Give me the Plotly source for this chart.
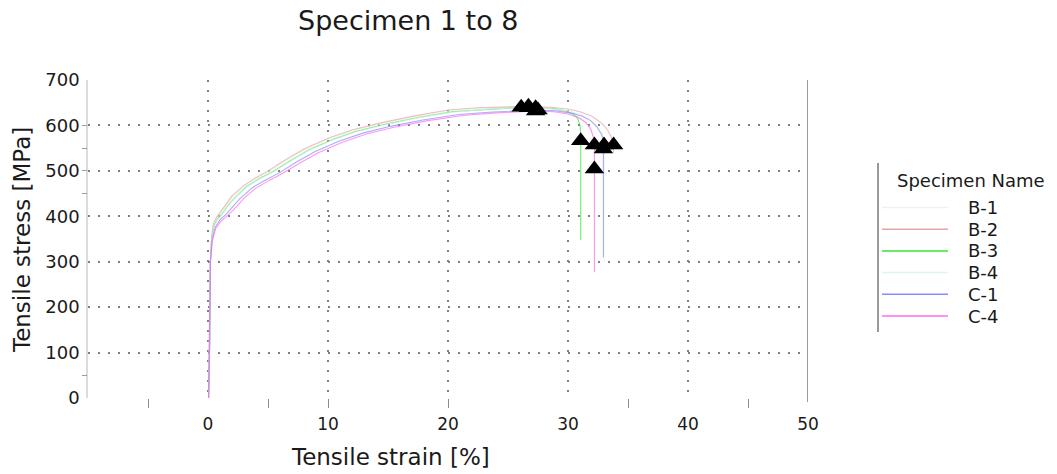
import plotly.graph_objects as go

# ---------------- data ----------------
specimens = ["B-1", "B-2", "B-3", "B-4", "C-1", "C-4"]
colors = ["#eef2ee", "#e4a4a4", "#33e633", "#e0f4f0", "#8a8aff", "#ff6cf0"]

b1_strain = [0.05, 0.15, 0.2, 0.3, 0.45, 0.7, 1.0, 1.5, 2.0, 3.0, 4.0, 5.0, 6.5, 8.0, 10.0, 12.0, 14.3, 17.0, 20.0, 22.5, 24.5, 26.1, 28.0, 29.5, 30.5, 31.3, 31.8, 32.1, 32.2, 32.2]
b1_stress = [0, 150, 300, 352, 380, 394, 405, 424, 441, 465, 482, 497, 522, 545, 569, 587, 602, 617, 631, 637, 639, 640, 638, 633, 625, 612, 595, 575, 557, 450]

b2_strain = [0.05, 0.15, 0.2, 0.3, 0.45, 0.7, 1.0, 1.5, 2.0, 3.0, 4.0, 5.0, 6.5, 8.0, 10.0, 12.0, 14.3, 17.0, 20.0, 22.5, 24.5, 26.7, 28.5, 30.0, 31.0, 32.0, 32.8, 33.3, 33.6, 33.8, 33.8]
b2_stress = [0, 160, 305, 355, 384, 397, 408, 428, 445, 468, 485, 500, 525, 548, 572, 590, 605, 620, 634, 639, 641, 642, 640, 636, 630, 620, 605, 590, 575, 557, 540]

b3_strain = [0.05, 0.15, 0.2, 0.3, 0.5, 0.8, 1.2, 1.7, 2.3, 3.2, 4.3, 5.4, 6.9, 8.4, 10.4, 12.4, 14.7, 17.4, 20.4, 22.9, 25.0, 27.3, 28.8, 29.8, 30.4, 30.8, 31.0, 31.06, 31.06, 31.06]
b3_stress = [0, 140, 300, 350, 380, 394, 406, 425, 442, 465, 483, 498, 523, 546, 569, 587, 602, 617, 630, 635, 638, 639, 637, 632, 625, 616, 600, 580, 566, 348]

b4_strain = [0.05, 0.15, 0.2, 0.3, 0.5, 0.8, 1.2, 1.7, 2.3, 3.2, 4.3, 5.4, 6.9, 8.4, 10.4, 12.4, 14.7, 17.4, 20.4, 22.9, 25.0, 26.7, 28.5, 30.0, 31.0, 31.8, 32.4, 32.8, 33.0, 33.0, 33.0]
b4_stress = [0, 130, 300, 350, 379, 393, 405, 424, 441, 464, 482, 497, 522, 545, 568, 586, 601, 616, 629, 635, 638, 639, 637, 632, 625, 614, 600, 583, 570, 557, 300]

c1_strain = [0.05, 0.15, 0.2, 0.35, 0.6, 1.0, 1.5, 2.1, 2.7, 3.7, 4.8, 5.9, 7.4, 8.9, 10.9, 12.9, 15.2, 17.9, 20.9, 23.4, 25.5, 27.5, 29.0, 30.3, 31.2, 31.9, 32.4, 32.8, 32.95, 32.95, 32.95]
c1_stress = [0, 120, 300, 348, 376, 392, 404, 423, 440, 463, 480, 495, 520, 542, 565, 583, 598, 612, 624, 629, 632, 634, 632, 627, 620, 610, 597, 580, 565, 548, 310]

c4_strain = [0.05, 0.15, 0.2, 0.35, 0.65, 1.1, 1.7, 2.4, 3.0, 4.0, 5.1, 6.2, 7.7, 9.2, 11.2, 13.2, 15.5, 18.2, 21.2, 23.7, 25.6, 27.3, 28.8, 30.0, 30.9, 31.5, 31.9, 32.1, 32.2, 32.2, 32.2]
c4_stress = [0, 200, 300, 345, 374, 390, 403, 422, 440, 462, 479, 494, 518, 540, 563, 581, 596, 610, 622, 627, 630, 632, 630, 625, 617, 606, 592, 576, 555, 504, 277]

curves_strain = [b1_strain, b2_strain, b3_strain, b4_strain, c1_strain, c4_strain]
curves_stress = [b1_stress, b2_stress, b3_stress, b4_stress, c1_stress, c4_stress]

# maximum-force points (triangles)
peak_strain = [26.1, 26.7, 27.3, 26.7, 27.5, 27.3]
peak_stress = [640, 642, 639, 639, 634, 632]
# break points (triangles)
break_strain = [32.2, 33.8, 31.06, 33.0, 32.95, 32.2]
break_stress = [557, 557, 566, 557, 548, 504]

x_labels = [0, 10, 20, 30, 40, 50]
x_grid = [0, 10, 20, 30, 40]
x_small_ticks = [-5, 5, 10, 20, 35, 45]
y_labels = [0, 100, 200, 300, 400, 500, 600, 700]
y_grid = [100, 200, 300, 400, 500, 600]
y_small_ticks = [50, 450, 500, 550, 600]

# ---------------- figure ----------------
W, H = 1057, 474
L, R, T, B = 88, 808, 80, 398
FONT = "DejaVu Sans, Verdana, sans-serif"
TXT = "#1a1a1a"

def px_x(p):
    return (p - L) / (R - L)

def px_y(p):
    return (B - p) / (B - T)

fig = go.Figure()

for name, col, xs, ys in zip(specimens, colors, curves_strain, curves_stress):
    fig.add_trace(go.Scatter(x=xs, y=ys, mode="lines", name=name, opacity=0.7,
                             line=dict(color=col, width=1.1), showlegend=False,
                             hoverinfo="skip"))

fig.add_trace(go.Scatter(x=peak_strain, y=peak_stress, mode="markers",
                         marker=dict(symbol="triangle-up", size=17, color="black"),
                         showlegend=False, hoverinfo="skip"))
fig.add_trace(go.Scatter(x=break_strain, y=break_stress, mode="markers",
                         marker=dict(symbol="triangle-up", size=17, color="black"),
                         showlegend=False, hoverinfo="skip"))

# invisible trace to create tick-only overlay axes
fig.add_trace(go.Scatter(x=[None], y=[None], xaxis="x2", yaxis="y2",
                         showlegend=False, hoverinfo="skip"))

grid_dash = "2px,8px"
fig.update_layout(
    width=W, height=H,
    margin=dict(l=L, r=W - R, t=T, b=H - B, pad=0),
    paper_bgcolor="white", plot_bgcolor="white",
    font=dict(family=FONT, color=TXT, size=16),
    showlegend=False,
    xaxis=dict(range=[-10, 50], tickvals=x_labels, ticktext=[str(v) for v in x_labels],
               showgrid=False, zeroline=False, showline=False, ticks="",
               ticklabelstandoff=14, tickfont=dict(size=17),
               minor=dict(tickvals=x_grid, showgrid=True, gridcolor="#808080",
                          gridwidth=1.6, griddash=grid_dash, ticks="")),
    yaxis=dict(range=[0, 700], tickvals=y_labels, ticktext=[str(v) for v in y_labels],
               showgrid=False, zeroline=False, showline=True, linecolor="#dcdcdc",
               linewidth=1.5, ticks="", ticklabelstandoff=3, tickfont=dict(size=18),
               minor=dict(tickvals=y_grid, showgrid=True, gridcolor="#808080",
                          gridwidth=1.6, griddash=grid_dash, ticks="")),
    xaxis2=dict(range=[-10, 50], overlaying="x", anchor="y2", side="bottom",
                tickvals=x_small_ticks, showticklabels=False, showgrid=False,
                zeroline=False, showline=False, ticks="outside", ticklen=9,
                tickcolor="#8c8c8c", tickwidth=1.2),
    yaxis2=dict(range=[0, 700], overlaying="y", anchor="x2", side="left",
                tickvals=y_small_ticks, showticklabels=False, showgrid=False,
                zeroline=False, showline=False, ticks="outside", ticklen=5,
                tickcolor="#9c9c9c", tickwidth=1.2),
)

# right border line at x = 50
fig.add_shape(type="line", xref="x", yref="paper", x0=50, x1=50,
              y0=px_y(402), y1=1, line=dict(color="#9a9a9a", width=2))

# titles
fig.add_annotation(text="Specimen 1 to 8", xref="paper", yref="paper",
                   x=px_x(408), y=px_y(21), showarrow=False,
                   font=dict(size=27, family=FONT, color=TXT),
                   xanchor="center", yanchor="middle")
fig.add_annotation(text="Tensile strain [%]", xref="paper", yref="paper",
                   x=px_x(390), y=px_y(457), showarrow=False,
                   font=dict(size=23, family=FONT, color=TXT),
                   xanchor="center", yanchor="middle")
fig.add_annotation(text="Tensile stress [MPa]", xref="paper", yref="paper",
                   x=px_x(22), y=px_y(240), showarrow=False, textangle=-90,
                   font=dict(size=23, family=FONT, color=TXT),
                   xanchor="center", yanchor="middle")

# legend (drawn manually)
fig.add_shape(type="line", xref="paper", yref="paper", x0=px_x(878), x1=px_x(878),
              y0=px_y(332), y1=px_y(163), line=dict(color="#9a9a9a", width=2))
fig.add_annotation(text="Specimen Name", xref="paper", yref="paper",
                   x=px_x(895), y=px_y(180), showarrow=False, xanchor="left",
                   yanchor="middle", font=dict(size=18, family=FONT, color=TXT))
for i, (name, col) in enumerate(zip(specimens, colors)):
    yy = 207.5 + 21.7 * i
    fig.add_shape(type="line", xref="paper", yref="paper", x0=px_x(882), x1=px_x(948),
                  y0=px_y(yy), y1=px_y(yy), line=dict(color=col, width=1.5))
    fig.add_annotation(text=name, xref="paper", yref="paper", x=px_x(966), y=px_y(yy),
                       showarrow=False, xanchor="left", yanchor="middle",
                       font=dict(size=18, family=FONT, color=TXT))

fig.write_html("out.html", config={"displayModeBar": False},
               post_script="document.body.style.margin='0';document.body.style.padding='0';"
                           "document.documentElement.style.overflow='hidden';")
